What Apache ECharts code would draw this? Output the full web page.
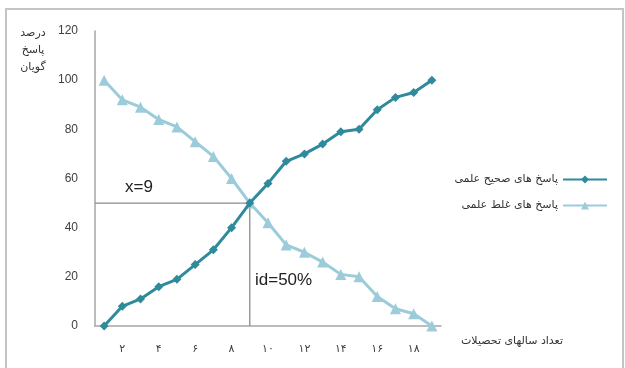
<!DOCTYPE html>
<html>
<head>
<meta charset="utf-8">
<script src="https://cdn.jsdelivr.net/npm/echarts@6/dist/echarts.min.js"></script>
<style>html,body{margin:0;padding:0;background:#fff;}#c{width:625px;height:368px;}</style>
</head>
<body>
<div id="c"></div>
<script>
// categories: years of education 1..19 (Persian digits)
var categories = ['۱','۲','۳','۴','۵','۶','۷','۸','۹','۱۰','۱۱','۱۲','۱۳','۱۴','۱۵','۱۶','۱۷','۱۸','۱۹'];
var correctName = 'پاسخ های صحیح علمی';
var wrongName = 'پاسخ های غلط علمی';
var correctValues = [0, 8, 11, 16, 19, 25, 31, 40, 50, 58, 67, 70, 74, 79, 80, 88, 93, 95, 100];
var wrongValues = [100, 92, 89, 84, 81, 75, 69, 60, 50, 42, 33, 30, 26, 21, 20, 12, 7, 5, 0];
var yTicks = [0, 20, 40, 60, 80, 100, 120];
// reference lines through the crossing point (x = 9, y = 50)
var refLine = [[0.5, 50], [9, 50], [9, 0]];
var annotX = 'x=9';
var annotId = 'id=50%';
var yAxisTitle = ['درصد', 'پاسخ', 'گویان'];
var xAxisTitle = 'تعداد سالهای تحصیلات';

var chart = echarts.init(document.getElementById('c'), null, {renderer: 'canvas'});
var fa = "'DejaVu Sans', sans-serif";
var option = {
  animation: false,
  backgroundColor: '#ffffff',
  grid: {left: 95, right: 184, top: 31, bottom: 42, containLabel: false},
  xAxis: [{
    type: 'category',
    data: categories,
    boundaryGap: true,
    axisLine: {show: true, lineStyle: {color: '#a6a6a6', width: 1.5}},
    axisTick: {show: false},
    splitLine: {show: false},
    axisLabel: {
      interval: function (i) { return i % 2 === 1; },
      margin: 18, fontSize: 11, color: '#404040', fontFamily: fa
    }
  }, {
    type: 'value', min: 0.5, max: 19.5, show: false
  }],
  yAxis: {
    type: 'value', min: yTicks[0], max: yTicks[yTicks.length - 1], interval: 20,
    axisLine: {show: true, lineStyle: {color: '#a6a6a6', width: 1.5}},
    axisTick: {show: false},
    splitLine: {show: false},
    axisLabel: {margin: 17, fontSize: 12, color: '#404040', fontFamily: "'Liberation Sans', Arial, sans-serif"}
  },
  legend: {
    orient: 'vertical', right: 12, top: 169, align: 'right', itemGap: 15,
    itemWidth: 44, itemHeight: 10,
    textStyle: {fontSize: 11, color: '#333', fontFamily: fa},
    data: [correctName, wrongName]
  },
  series: [{
    type: 'line', xAxisIndex: 1, data: refLine, silent: true, symbol: 'none',
    lineStyle: {color: '#8c8c8c', width: 1.3}, z: 1
  }, {
    name: wrongName, type: 'line', data: wrongValues,
    symbol: 'triangle', symbolSize: 11,
    itemStyle: {color: '#9ccbd9'},
    lineStyle: {color: '#9ccbd9', width: 3}, z: 2
  }, {
    name: correctName, type: 'line', data: correctValues,
    symbol: 'diamond', symbolSize: 9,
    itemStyle: {color: '#2f8a9c'},
    lineStyle: {color: '#2f8a9c', width: 3}, z: 3
  }],
  graphic: [
    {type: 'rect', shape: {x: 6, y: 9, width: 617, height: 370}, style: {fill: 'none', stroke: '#c4c4c4', lineWidth: 2}, silent: true},
    {type: 'text', left: 125, top: 179, style: {text: annotX, fontSize: 17, fill: '#222', fontFamily: "'Liberation Sans', Arial, sans-serif"}},
    {type: 'text', left: 255, top: 272, style: {text: annotId, fontSize: 17, fill: '#222', fontFamily: "'Liberation Sans', Arial, sans-serif"}},
    {type: 'text', x: 33, y: 50, style: {text: yAxisTitle.join('\n'), fontSize: 11, lineHeight: 17, fill: '#333', align: 'center', verticalAlign: 'middle', fontFamily: fa}},
    {type: 'text', x: 512, y: 341, style: {text: xAxisTitle, fontSize: 11, fill: '#333', align: 'center', verticalAlign: 'middle', fontFamily: fa}}
  ]
};
chart.setOption(option);
</script>
</body>
</html>
